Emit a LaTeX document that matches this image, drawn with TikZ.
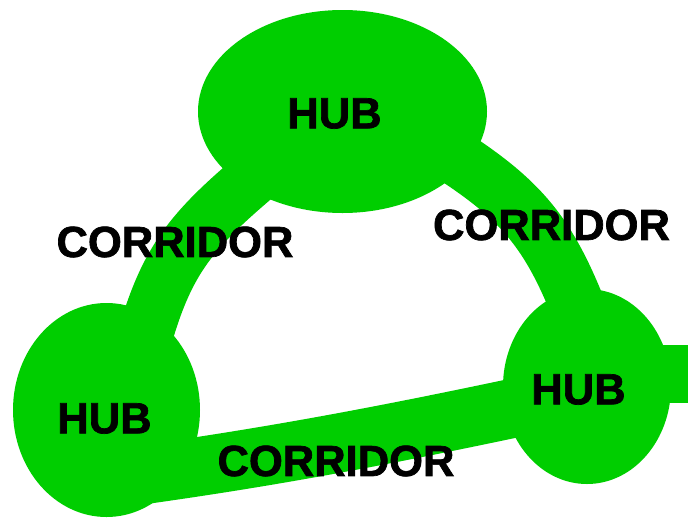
\documentclass[tikz,border=0pt]{standalone}
\usepackage{fontspec}
\newfontfamily\labfont{Liberation Sans}[BoldFeatures={FakeBold=1.6}]
\usetikzlibrary{shapes.geometric}
\definecolor{hubgreen}{RGB}{0,206,0}
\pgfdeclarelayer{bg}
\pgfdeclarelayer{corridors}
\pgfsetlayers{bg,corridors,main}
\begin{document}
\begin{tikzpicture}[x=1pt,y=-1pt,
  hub/.style={ellipse, fill=hubgreen, draw=none, inner sep=0pt},
  corr/.style={draw=hubgreen, line width=55pt},
  lab/.style={font=\labfont\bfseries\fontsize{43.5}{46}\selectfont, text=black, inner sep=0pt}]
\useasboundingbox (0,0) rectangle (688,520);
\begin{pgfonlayer}{bg}
  \fill[white] (0,0) rectangle (688,520);
\end{pgfonlayer}

% hubs
\node[hub, minimum width=289pt, minimum height=203pt] (top) at (342.5,111.5) {};
\node[hub, minimum width=187pt, minimum height=214pt] (left) at (106.5,410) {};
\node[hub, minimum width=168pt, minimum height=195pt] (right) at (587,386.5) {};
\coordinate (exit) at (688,374);

% corridors
\begin{pgfonlayer}{corridors}
  \draw[corr, shorten <=-35pt, shorten >=-35pt]
    (top.217.7) .. controls (191.4,229.4) and (166.2,257.4) .. (left.65.4);
  \draw[corr, shorten <=-35pt, shorten >=-35pt]
    (top.337.9) .. controls (521,198.4) and (549,230) .. (right.99.5);
  \draw[corr, line width=59pt, shorten <=-50pt, shorten >=-35pt]
    (left.323.8) .. controls (286,455) and (408,430.6) .. (right.196.8);
  \draw[corr, line width=58pt] (right.center |- exit) -- (exit);
\end{pgfonlayer}

% labels
\node[lab] (hubtop) at (334.5,113.5) {HUB};
\node[lab] (hubleft) at (104.5,418.5) {HUB};
\node[lab] (hubright) at (578.5,389.5) {HUB};
\node[lab] (corrleft) at (175,242) {CORRIDOR};
\node[lab] (corrright) at (551.5,225) {CORRIDOR};
\node[lab] (corrbottom) at (336,461) {CORRIDOR};
\end{tikzpicture}
\end{document}
